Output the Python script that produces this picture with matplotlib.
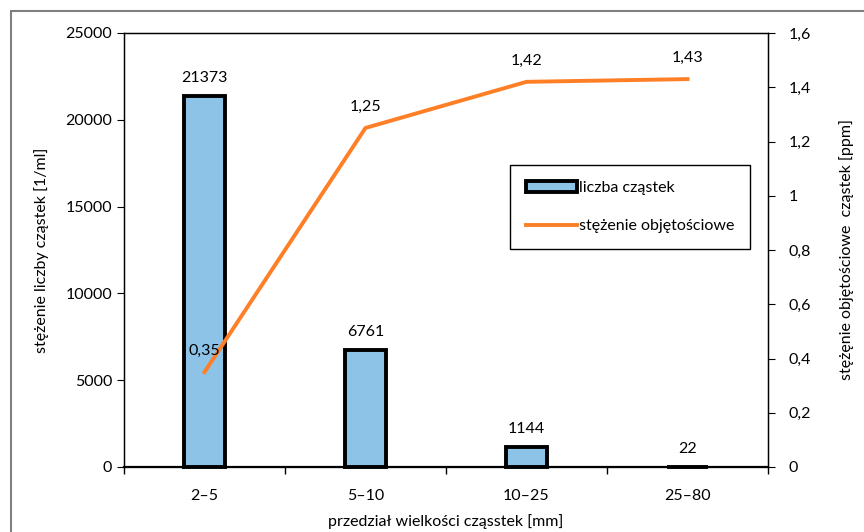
import numpy as np
import matplotlib
matplotlib.use("Agg")
import matplotlib.pyplot as plt
from matplotlib.patches import Rectangle, Patch
from matplotlib.lines import Line2D

categories = ["2–5", "5–10", "10–25", "25–80"]
counts = [21373, 6761, 1144, 22]
volume_conc = [0.35, 1.25, 1.42, 1.43]
left_ticks = [0, 5000, 10000, 15000, 20000, 25000]
right_ticks = [0, 0.2, 0.4, 0.6, 0.8, 1.0, 1.2, 1.4, 1.6]

bar_color = "#8DC3E6"
line_color = "#FF7F27"

plt.rcParams["font.family"] = ["Lato", "DejaVu Sans"]
plt.rcParams["font.size"] = 11.5


def fmt_pl(v):
    s = f"{v:.2f}".rstrip("0").rstrip(".")
    return s.replace(".", ",")


def main():
    fig = plt.figure(figsize=(8.64, 5.32), dpi=100)
    # outer chart frame (cropped on right and bottom)
    fig.patches.append(Rectangle((11 / 864, -0.1), 1.2, 1 - 11 / 532 + 0.1,
                                 transform=fig.transFigure, fill=False,
                                 edgecolor="#7f7f7f", linewidth=1.5))

    ax = fig.add_axes([124 / 864, 1 - 467 / 532, 644 / 864, 434 / 532])
    x = np.arange(len(categories))
    ax.bar(x, counts, width=0.25, color=bar_color, edgecolor="black",
           linewidth=2.8, zorder=3, clip_on=False)
    for xi, c in zip(x, counts):
        ax.annotate(str(c), (xi, c), xytext=(0, 8), textcoords="offset points",
                    ha="center", va="bottom")

    ax.set_xlim(-0.5, len(categories) - 0.5)
    ax.set_ylim(0, 25000)
    ax.set_yticks(left_ticks)
    ax.set_xticks(x)
    ax.set_xticklabels(categories)
    ax.set_xticks(np.arange(len(categories) + 1) - 0.5, minor=True)
    ax.tick_params(axis="x", which="major", length=0, pad=16)
    ax.tick_params(axis="x", which="minor", length=5, width=1, direction="out")
    ax.tick_params(axis="y", length=5, direction="out")
    ax.set_xlabel("przedział wielkości cząsstek [mm]", labelpad=8)
    ax.set_ylabel("stężenie liczby cząstek [1/ml]", labelpad=12)
    ax.spines["bottom"].set_linewidth(1.6)
    for s in ["top", "right", "left"]:
        ax.spines[s].set_linewidth(1)

    ax2 = ax.twinx()
    ax2.plot(x, volume_conc, color=line_color, linewidth=2.8, zorder=3)
    for xi, v in zip(x, volume_conc):
        ax2.annotate(fmt_pl(v), (xi, v), xytext=(0, 10), textcoords="offset points",
                     ha="center", va="bottom")
    ax2.set_ylim(0, 1.6)
    ax2.set_yticks(right_ticks)
    ax2.set_yticklabels([fmt_pl(t) for t in right_ticks])
    ax2.tick_params(axis="y", length=5, direction="out", pad=10)
    ax2.set_ylabel("stężęnie objętościowe  cząstek [ppm]", labelpad=20)

    handles = [Patch(facecolor=bar_color, edgecolor="black", linewidth=2.8),
               Line2D([], [], color=line_color, linewidth=2.8)]
    leg = ax2.legend(handles, ["liczba cząstek", "stężenie objętościowe"],
                     loc="upper left", bbox_to_anchor=(386 / 644, 1 - 132 / 434),
                     fancybox=False, edgecolor="black", framealpha=1,
                     labelspacing=1.5, handlelength=3.2, handletextpad=0.1,
                     borderpad=1.0, borderaxespad=0)
    leg.get_frame().set_linewidth(1)

    fig.savefig("out.png", dpi=100)


if __name__ == "__main__":
    main()
